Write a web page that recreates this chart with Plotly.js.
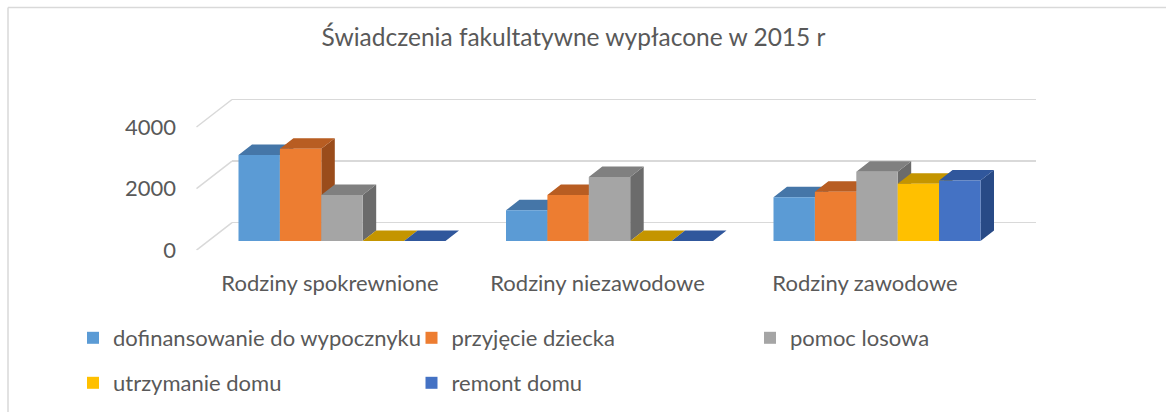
<!DOCTYPE html>
<html>
<head>
<meta charset="utf-8">
<script src="https://cdn.plot.ly/plotly-3.0.1.min.js"></script>
<style>html,body{margin:0;padding:0;background:#fff;}#chart{width:1166px;height:412px;}</style>
</head>
<body>
<div id="chart"></div>
<script>
// ---- data ----
const categories = ['Rodziny spokrewnione', 'Rodziny niezawodowe', 'Rodziny zawodowe'];
const seriesNames = ['dofinansowanie do wypocznyku', 'przyjęcie dziecka', 'pomoc losowa', 'utrzymanie domu', 'remont domu'];
const dofinansowanie = [2800, 1000, 1420];
const przyjecie = [3000, 1500, 1600];
const pomocLosowa = [1500, 2080, 2250];
const utrzymanieDomu = [0, 0, 1860];
const remontDomu = [0, 0, 1970];
const yTicks = [0, 2000, 4000];

// ---- styles ----
const seriesValues = [dofinansowanie, przyjecie, pomocLosowa, utrzymanieDomu, remontDomu];
const frontColors = ['#5B9BD5', '#ED7D31', '#A5A5A5', '#FFC000', '#4472C4'];
const topColors = ['#4576A8', '#B85D22', '#808080', '#C49500', '#30579C'];
const sideColors = ['#3D6690', '#9A4C1B', '#6B6B6B', '#A07A00', '#284A86'];
const FONT = 'Lato, "Open Sans", sans-serif';
const TXT = '#595959';
const GRID = '#D9D9D9';
const LABEL_SIZE = 22;

// ---- geometry (pixels) ----
const W = 1166, H = 412;
const fx = p => p / W;
const fy = p => 1 - p / H;
const YMAX = 5000;
// back wall
const backL = 232, backR = 1036, back0 = 222.7, backTop = 222.7 - 154;
// front floor edge (value labels)
const labL = 196.5, lab0 = 250.2, labTop = 250.2 - 154;
// front plane (bars)
const frontL = 208.25, frontR = 1010.75, front0 = 241, frontTop = 241 - 153.75;
const nCat = categories.length, nSer = seriesValues.length;
const barW = 41.4 / ((frontR - frontL) / nCat); // data units
const bargap = 1 - nSer * barW;
const ddx = 13.5 * nCat / (frontR - frontL);
const ddy = 10.5 * YMAX / (front0 - frontTop);

const catIdx = categories.map((c, i) => i);
const traces = [];

// empty traces holding the back wall and label axes
traces.push({x: [], y: [], type: 'scatter', xaxis: 'x', yaxis: 'y', showlegend: false, hoverinfo: 'skip'});
traces.push({x: [], y: [], type: 'scatter', xaxis: 'x', yaxis: 'y3', showlegend: false, hoverinfo: 'skip'});

seriesValues.forEach((vals, k) => {
  const topX = [], topY = [], sideX = [], sideY = [];
  vals.forEach((v, g) => {
    const xc = g + (k - (nSer - 1) / 2) * barW;
    const xl = xc - barW / 2, xr = xc + barW / 2;
    topX.push(xl, xl + ddx, xr + ddx, xr, null);
    topY.push(v, v + ddy, v + ddy, v, null);
    sideX.push(xr, xr, xr + ddx, xr + ddx, null);
    sideY.push(0, v, v + ddy, ddy, null);
  });
  traces.push({
    x: sideX, y: sideY, type: 'scatter', mode: 'lines', fill: 'toself',
    fillcolor: sideColors[k], line: {width: 0, color: sideColors[k]},
    xaxis: 'x2', yaxis: 'y2', showlegend: false, hoverinfo: 'skip', zorder: 2 * k
  });
  traces.push({
    x: topX, y: topY, type: 'scatter', mode: 'lines', fill: 'toself',
    fillcolor: topColors[k], line: {width: 0, color: topColors[k]},
    xaxis: 'x2', yaxis: 'y2', showlegend: false, hoverinfo: 'skip', zorder: 2 * k
  });
  traces.push({
    x: catIdx, y: vals, type: 'bar', name: seriesNames[k],
    marker: {color: frontColors[k], line: {width: 0}},
    xaxis: 'x2', yaxis: 'y2', zorder: 2 * k + 1,
    legend: k < 3 ? 'legend' : 'legend2'
  });
});

const shapes = [];
// chart border (top and left)
shapes.push({type: 'line', xref: 'paper', yref: 'paper', x0: fx(8), x1: 1, y0: fy(7.5), y1: fy(7.5), line: {color: GRID, width: 1.5}});
shapes.push({type: 'line', xref: 'paper', yref: 'paper', x0: fx(8), x1: fx(8), y0: fy(7.5), y1: 0, line: {color: GRID, width: 1.5}});
// left wall diagonal stubs (front floor edge -> back wall gridline)
yTicks.forEach(t => {
  shapes.push({type: 'line', xref: 'paper', yref: 'y3', ysizemode: 'pixel',
    yanchor: t, x0: fx(labL), x1: fx(backL), y0: 0, y1: lab0 - back0,
    line: {color: GRID, width: 1.5}});
});

const legendCommon = {
  orientation: 'h', xanchor: 'left', yanchor: 'middle', x: fx(73),
  entrywidth: 293.5, entrywidthmode: 'pixels',
  font: {family: FONT, size: LABEL_SIZE, color: TXT}, bgcolor: 'rgba(0,0,0,0)'
};

const layout = {
  width: W, height: H,
  margin: {l: 0, r: 0, t: 0, b: 0},
  paper_bgcolor: '#FFFFFF', plot_bgcolor: 'rgba(0,0,0,0)',
  hovermode: false,
  barmode: 'group', bargap: bargap, bargroupgap: 0,
  title: {text: 'Świadczenia fakultatywne wypłacone w 2015 r', x: fx(573.5), xanchor: 'center',
          y: fy(37), yanchor: 'middle', yref: 'container',
          font: {family: FONT, size: 24.5, color: TXT}},
  font: {family: FONT, color: TXT},
  xaxis: {domain: [fx(backL), fx(backR)], range: [-0.5, nCat - 0.5], anchor: 'y',
          showgrid: false, zeroline: false, showticklabels: false, showline: false, fixedrange: true},
  yaxis: {domain: [fy(back0), fy(backTop)], range: [0, YMAX], anchor: 'x',
          tickvals: yTicks, showgrid: true, gridcolor: GRID, gridwidth: 1.5,
          zeroline: true, zerolinecolor: GRID, zerolinewidth: 1.5, showline: false,
          ticks: '', showticklabels: false, fixedrange: true},
  yaxis3: {domain: [fy(lab0), fy(labTop)], range: [0, YMAX], anchor: 'x',
          tickvals: yTicks, showgrid: false, zeroline: false, showline: false,
          ticks: '', ticklabelstandoff: 55,
          tickfont: {family: FONT, size: LABEL_SIZE, color: TXT}, fixedrange: true},
  xaxis2: {domain: [fx(frontL), fx(frontR)], range: [-0.5, nCat - 0.5], anchor: 'y2',
           tickvals: catIdx, ticktext: categories, ticks: '', showgrid: false, zeroline: false,
           showline: false, ticklabelshift: -12, ticklabelstandoff: 27,
           tickfont: {family: FONT, size: LABEL_SIZE, color: TXT}, fixedrange: true},
  yaxis2: {domain: [fy(front0), fy(frontTop)], range: [0, YMAX], anchor: 'x2',
           showgrid: false, zeroline: false, showticklabels: false, showline: false, fixedrange: true},
  legend: Object.assign({}, legendCommon, {y: fy(338)}),
  legend2: Object.assign({}, legendCommon, {y: fy(383)}),
  shapes: shapes
};

Plotly.newPlot('chart', traces, layout, {displayModeBar: false, staticPlot: true});
</script>
</body>
</html>
